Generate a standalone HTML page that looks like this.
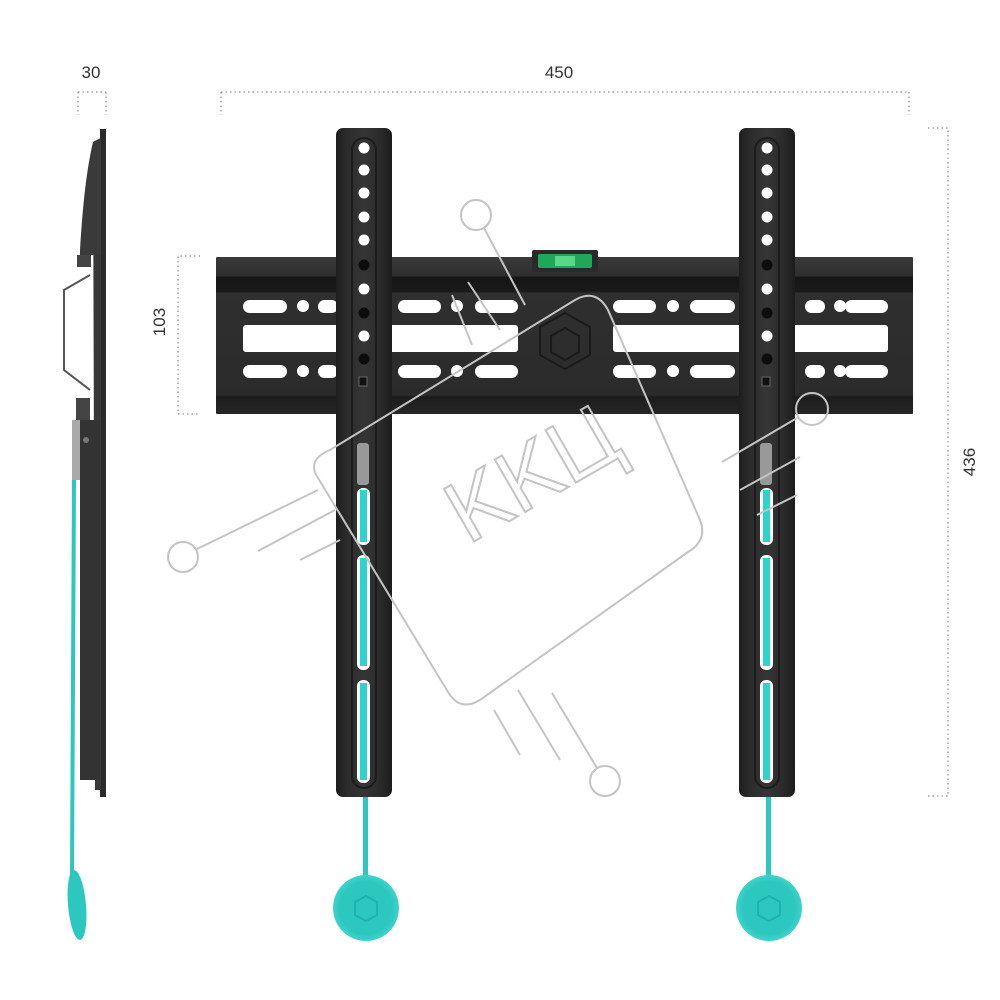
<!DOCTYPE html>
<html><head><meta charset="utf-8"><style>
html,body{margin:0;padding:0;background:#fff;}
svg{display:block;}
text{font-family:"Liberation Sans",sans-serif;}
</style></head><body>
<svg width="1000" height="1000" viewBox="0 0 1000 1000" xmlns="http://www.w3.org/2000/svg">
<defs>
<linearGradient id="bar" x1="0" y1="0" x2="0" y2="1">
<stop offset="0" stop-color="#3a3a3a"/><stop offset="0.12" stop-color="#2e2e2e"/>
<stop offset="0.13" stop-color="#151515"/><stop offset="0.22" stop-color="#1a1a1a"/>
<stop offset="0.23" stop-color="#2f2f2f"/><stop offset="0.88" stop-color="#2b2b2b"/>
<stop offset="0.89" stop-color="#1c1c1c"/><stop offset="1" stop-color="#262626"/>
</linearGradient>
<linearGradient id="up" x1="0" y1="0" x2="1" y2="0">
<stop offset="0" stop-color="#1e1e1e"/><stop offset="0.2" stop-color="#2c2c2c"/>
<stop offset="0.5" stop-color="#353535"/><stop offset="0.8" stop-color="#2a2a2a"/><stop offset="1" stop-color="#1c1c1c"/>
</linearGradient>
<radialGradient id="teal" cx="0.5" cy="0.5" r="0.5"><stop offset="0.8" stop-color="#2cc8c0"/><stop offset="1" stop-color="#3fd3cb"/></radialGradient>
</defs>

<!-- dimension lines -->
<g stroke="#777" stroke-width="1" stroke-dasharray="1.5,3" fill="none">
<path d="M78 92 H106 M78 92 V115 M106 92 V115"/>
<path d="M221 92 H909 M221 92 V115 M909 92 V115"/>
<path d="M928 128 H948 V796 H928"/>
<path d="M200 256 H178 V414 H200"/>
</g>
<g fill="#333" font-size="17">
<text x="91" y="78" text-anchor="middle">30</text>
<text x="559" y="78" text-anchor="middle">450</text>
<text transform="translate(975,462) rotate(-90)" text-anchor="middle">436</text>
<text transform="translate(165,322) rotate(-90)" text-anchor="middle">103</text>
</g>

<!-- side view -->
<rect x="100" y="129" width="6" height="668" fill="#2a2a2a"/>
<path d="M93 142 L101 138 L101 790 L95 790 Z" fill="#383838"/>
<path d="M93 142 Q84 180 80 250 L80 255 L101 255 L101 138 Z" fill="#3a3a3a"/>
<rect x="77" y="255" width="14" height="12" fill="#444"/>
<path d="M90 275 L64 290 L64 370 L90 390" stroke="#555" stroke-width="2" fill="none"/>
<rect x="76" y="398" width="14" height="22" fill="#444"/>
<rect x="72" y="420" width="8" height="60" fill="#aaa"/>
<rect x="80" y="420" width="20" height="360" fill="#333"/>
<circle cx="86" cy="440" r="3" fill="#777"/>
<path d="M74 480 L72 875" stroke="#2cc8c0" stroke-width="4"/>
<ellipse cx="77" cy="905" rx="9" ry="35" fill="#2cc8c0" transform="rotate(-5 77 905)"/>

<!-- horizontal bar -->
<rect x="216" y="257" width="697" height="157" fill="url(#bar)" rx="1"/>
<g fill="#fff">
<rect x="243" y="300" width="44" height="13" rx="6.5"/><circle cx="303" cy="306" r="6"/><rect x="318" y="300" width="20" height="13" rx="6.5"/>
<rect x="398" y="300" width="43" height="13" rx="6.5"/><circle cx="457" cy="306" r="6"/><rect x="475" y="300" width="43" height="13" rx="6.5"/>
<rect x="243" y="325" width="275" height="27" rx="3"/>
<rect x="243" y="365" width="44" height="13" rx="6.5"/><circle cx="303" cy="371" r="6"/><rect x="318" y="365" width="20" height="13" rx="6.5"/>
<rect x="398" y="365" width="43" height="13" rx="6.5"/><circle cx="457" cy="371" r="6"/><rect x="475" y="365" width="43" height="13" rx="6.5"/>
<rect x="613" y="300" width="43" height="13" rx="6.5"/><circle cx="673" cy="306" r="6"/><rect x="690" y="300" width="45" height="13" rx="6.5"/>
<rect x="613" y="325" width="275" height="27" rx="3"/>
<rect x="613" y="365" width="43" height="13" rx="6.5"/><circle cx="673" cy="371" r="6"/><rect x="690" y="365" width="45" height="13" rx="6.5"/>
<rect x="805" y="300" width="20" height="13" rx="6.5"/><circle cx="840" cy="306" r="6"/><rect x="845" y="300" width="43" height="13" rx="6.5"/>
<rect x="805" y="365" width="20" height="13" rx="6.5"/><circle cx="840" cy="371" r="6"/><rect x="845" y="365" width="43" height="13" rx="6.5"/>
</g>
<!-- logo -->
<g fill="none" stroke="#1a1a1a" stroke-width="2">
<path d="M565 313 L590 327 L590 355 L565 369 L540 355 L540 327 Z"/>
<path d="M551 336 L565 328 L579 336 L579 352 L565 360 L551 352 Z"/>
</g>
<!-- level -->
<rect x="532" y="250" width="66" height="22" fill="#2a2a2a" rx="2"/>
<rect x="538" y="254" width="54" height="14" fill="#1fa85a" rx="2"/>
<rect x="555" y="256" width="20" height="10" fill="#5ad88a"/>

<!-- uprights -->
<g id="upL">
<rect x="336" y="128" width="56" height="669" rx="7" fill="url(#up)"/>
<rect x="352" y="138" width="24" height="650" rx="12" fill="none" stroke="#1c1c1c" stroke-width="2"/>
<g fill="#fff">
<circle cx="364" cy="148" r="5.5"/><circle cx="364" cy="170" r="5.5"/><circle cx="364" cy="193" r="5.5"/><circle cx="364" cy="217" r="5.5"/><circle cx="364" cy="240" r="5.5"/>
<circle cx="364" cy="289" r="5.5"/><circle cx="364" cy="336" r="5.5"/>
</g>
<g fill="#0d0d0d"><circle cx="364" cy="265" r="5.5"/><circle cx="364" cy="313" r="5.5"/><circle cx="364" cy="359" r="5.5"/></g>
<rect x="359" y="377" width="8" height="9" fill="#111" stroke="#666" stroke-width="1"/>
<rect x="357" y="443" width="12" height="42" fill="#999" rx="3"/>
<rect x="357" y="488" width="13" height="57" rx="6" fill="#fff"/>
<rect x="357" y="555" width="13" height="115" rx="6" fill="#fff"/>
<rect x="357" y="680" width="13" height="103" rx="6" fill="#fff"/>
<rect x="360" y="490" width="7" height="52" fill="#2cd4cc"/>
<rect x="360" y="558" width="7" height="108" fill="#2cd4cc"/>
<rect x="360" y="683" width="7" height="97" fill="#2cd4cc"/>
<rect x="363" y="797" width="5" height="85" fill="#2cc8c0"/>
<circle cx="366" cy="908" r="33" fill="url(#teal)"/>
<path d="M366 896 L377 902 L377 915 L366 921 L355 915 L355 902 Z" fill="none" stroke="#1eb3ab" stroke-width="2"/>
</g>
<use href="#upL" transform="translate(403,0)"/>

<!-- watermark -->
<g fill="none" stroke="#c4c4c4" stroke-width="2">
<path d="M330 450 L575 300 Q596 288 608 310 L700 520 Q708 540 688 552 L480 700 Q460 712 448 692 L318 478 Q306 460 330 450 Z"/>
<circle cx="476" cy="215" r="15"/><line x1="484" y1="228" x2="525" y2="305"/>
<line x1="468" y1="282" x2="500" y2="330"/><line x1="452" y1="295" x2="472" y2="345"/>
<circle cx="183" cy="557" r="15"/><line x1="197" y1="549" x2="318" y2="490"/>
<line x1="258" y1="551" x2="335" y2="510"/><line x1="300" y1="560" x2="340" y2="540"/>
<circle cx="605" cy="781" r="15"/><line x1="597" y1="768" x2="552" y2="693"/>
<line x1="560" y1="760" x2="518" y2="690"/><line x1="520" y1="755" x2="494" y2="710"/>
<circle cx="812" cy="409" r="16"/><line x1="797" y1="418" x2="722" y2="462"/>
<line x1="800" y1="457" x2="740" y2="490"/><line x1="797" y1="495" x2="757" y2="515"/>
<text x="0" y="0" transform="translate(468,545) rotate(-30)" font-size="88" stroke="#c4c4c4" stroke-width="2" fill="none" font-family="Liberation Sans, sans-serif">KKЦ</text>
</g>
</svg>
</body></html>
